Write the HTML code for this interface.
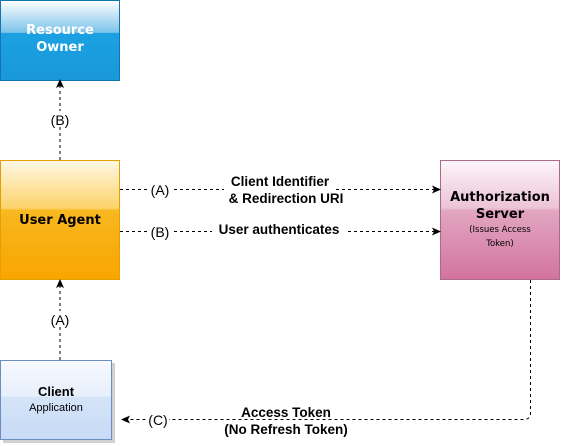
<!DOCTYPE html>
<html><head><meta charset="utf-8"><style>
html,body{margin:0;padding:0;background:#fff;}
svg{display:block;font-family:"Liberation Sans",Arial,sans-serif;}
</style></head><body>
<svg width="562" height="446" viewBox="0 0 562 446" xmlns="http://www.w3.org/2000/svg">
<defs>
<linearGradient id="gb" x1="0" y1="0" x2="0" y2="1">
<stop offset="0" stop-color="#ffffff"/><stop offset="0.4" stop-color="#7cc3ea"/><stop offset="0.41" stop-color="#1ba1e2"/><stop offset="1" stop-color="#1a98d9"/></linearGradient>
<linearGradient id="go" x1="0" y1="0" x2="0" y2="1">
<stop offset="0" stop-color="#fff8e6"/><stop offset="0.4" stop-color="#fcd36a"/><stop offset="0.42" stop-color="#f8b820"/><stop offset="1" stop-color="#f9a500"/></linearGradient>
<linearGradient id="gp" x1="0" y1="0" x2="0" y2="1">
<stop offset="0" stop-color="#fdf5f9"/><stop offset="0.4" stop-color="#ecc3d6"/><stop offset="0.42" stop-color="#e2a6c2"/><stop offset="1" stop-color="#d2739e"/></linearGradient>
<linearGradient id="gc" x1="0" y1="0" x2="0" y2="1">
<stop offset="0" stop-color="#f7fafe"/><stop offset="0.45" stop-color="#e6effb"/><stop offset="0.47" stop-color="#d4e3f8"/><stop offset="1" stop-color="#c7dbf6"/></linearGradient>
</defs>

<rect x="0.5" y="0.5" width="119" height="80" fill="url(#gb)" stroke="#1275b0"/>
<g font-family="'DejaVu Sans',Verdana,sans-serif" font-weight="bold" font-size="13" text-anchor="middle">
<text x="60" y="34" fill="#fff">Resource</text>
<text x="60" y="51" fill="#fff">Owner</text>
<text x="60" y="224" fill="#000">User Agent</text>
<text x="500" y="201" fill="#000">Authorization</text>
<text x="500" y="218" fill="#000">Server</text>
</g>
<rect x="0.5" y="160.5" width="119" height="119" fill="url(#go)" stroke="#e5a000"/>
<text x="60" y="224" text-anchor="middle" font-size="13" font-weight="bold" fill="#000" font-family="'DejaVu Sans',Verdana,sans-serif">User Agent</text>

<rect x="440.5" y="160.5" width="119" height="119" fill="url(#gp)" stroke="#a86b8a"/>
<g font-family="'DejaVu Sans',Verdana,sans-serif" text-anchor="middle" fill="#000">
<text x="500" y="201" font-size="13" font-weight="bold">Authorization</text>
<text x="500" y="218" font-size="13" font-weight="bold">Server</text>
<text x="500" y="232" font-size="8.5">(Issues Access</text>
<text x="500" y="246" font-size="8.5">Token)</text>
</g>

<rect x="3" y="363" width="112" height="80" fill="#999" opacity="0.45"/>
<rect x="0.5" y="360.5" width="111" height="79" fill="url(#gc)" stroke="#6c8ebf"/>
<text x="56" y="396" text-anchor="middle" font-size="13" font-weight="bold" fill="#000">Client</text>
<text x="56" y="411" text-anchor="middle" font-size="11" fill="#000">Application</text>

<g stroke="#000" stroke-dasharray="3,3" fill="none" stroke-width="1">
<line x1="60" y1="160" x2="60" y2="86"/>
<line x1="60" y1="360" x2="60" y2="286"/>
<line x1="120" y1="189.5" x2="434" y2="189.5"/>
<line x1="120" y1="231.5" x2="434" y2="231.5"/>
<path d="M530.5 280 V413 Q530.5 419.5 524 419.5 H128"/>
</g>
<g fill="#000">
<path d="M60 79 L64 88 L60 86 L56 88 Z"/>
<path d="M60 279 L64 288 L60 286 L56 288 Z"/>
<path d="M441 189.5 L432 185.5 L434 189.5 L432 193.5 Z"/>
<path d="M441 231.5 L432 227.5 L434 231.5 L432 235.5 Z"/>
<path d="M121 419.5 L130 415.5 L128 419.5 L130 423.5 Z"/>
</g>

<g font-size="14" fill="#000" text-anchor="middle">
<rect x="48" y="111" width="24" height="16" fill="#fff"/>
<text x="60" y="125">(B)</text>
<rect x="48" y="311" width="24" height="16" fill="#fff"/>
<text x="60" y="325">(A)</text>
<rect x="149" y="181" width="22" height="16" fill="#fff"/>
<text x="160" y="195">(A)</text>
<rect x="149" y="223" width="22" height="16" fill="#fff"/>
<text x="160" y="237">(B)</text>
<rect x="147" y="411" width="22" height="16" fill="#fff"/>
<text x="158" y="425">(C)</text>
</g>
<g font-size="13.5" font-weight="bold" fill="#000" text-anchor="middle">
<rect x="224" y="183" width="112" height="10" fill="#fff"/>
<rect x="216" y="193" width="140" height="12" fill="#fff"/>
<text x="280" y="186">Client Identifier</text>
<text x="286" y="203">&amp; Redirection URI</text>
<rect x="212" y="223" width="135" height="14" fill="#fff"/>
<text x="279" y="234">User authenticates</text>
<text x="286" y="417">Access Token</text>
<text x="286" y="434">(No Refresh Token)</text>
</g>
</svg>
</body></html>
